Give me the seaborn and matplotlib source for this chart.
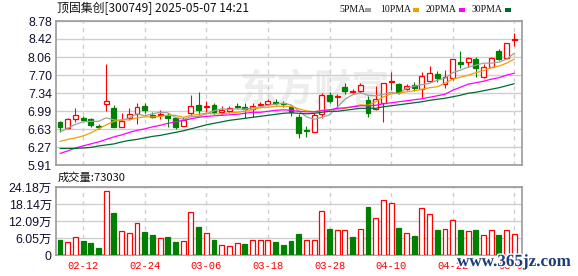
import matplotlib
matplotlib.use('Agg')
import matplotlib.pyplot as plt
import matplotlib.patheffects as pe
from matplotlib.patches import Rectangle
import seaborn as sns
import numpy as np
import pandas as pd

# ---------------- data ----------------
opens = [6.77, 6.64, 6.83, 6.85, 6.83, 6.69, 7.12, 7.04, 6.67, 6.85,
         6.93, 7.09, 6.90, 6.91, 6.90, 6.84, 6.69, 6.94, 7.11, 7.07,
         7.11, 6.96, 6.99, 7.09, 7.07, 7.02, 7.11, 7.13, 7.17, 7.14,
         7.06, 6.87, 6.61, 6.56, 6.93, 7.30, 7.27, 7.46, 7.37, 7.39,
         7.21, 7.02, 7.14, 7.56, 7.52, 7.42, 7.50, 7.42, 7.59, 7.72,
         7.52, 7.64, 7.96, 7.96, 8.02, 7.66, 7.87, 8.18, 8.04, 8.41]
closes = [6.66, 6.82, 6.90, 6.81, 6.70, 6.67, 7.19, 6.67, 6.79, 6.92,
          7.07, 7.01, 6.87, 6.93, 6.85, 6.66, 6.81, 7.09, 7.01, 7.09,
          6.96, 7.01, 7.05, 7.06, 7.03, 7.09, 7.13, 7.19, 7.15, 7.12,
          6.96, 6.54, 6.59, 6.91, 7.30, 7.19, 7.29, 7.39, 7.38, 7.50,
          6.95, 7.22, 7.54, 7.58, 7.37, 7.48, 7.44, 7.69, 7.74, 7.65,
          7.66, 8.02, 7.93, 8.04, 7.85, 7.86, 8.04, 8.03, 8.34, 8.43]
highs = [6.78, 6.84, 7.04, 6.89, 6.85, 6.73, 7.92, 7.11, 6.94, 7.04,
         7.14, 7.14, 6.97, 7.01, 6.95, 6.86, 6.87, 7.31, 7.37, 7.19,
         7.15, 7.09, 7.09, 7.14, 7.15, 7.14, 7.17, 7.23, 7.23, 7.19,
         7.10, 6.93, 6.69, 6.95, 7.35, 7.37, 7.32, 7.55, 7.42, 7.55,
         7.29, 7.48, 7.55, 7.76, 7.55, 7.52, 7.56, 7.77, 7.89, 7.78,
         7.80, 8.03, 8.18, 8.07, 8.06, 7.92, 8.06, 8.22, 8.35, 8.55]
lows = [6.57, 6.62, 6.76, 6.78, 6.67, 6.63, 6.99, 6.66, 6.66, 6.81,
        6.73, 6.94, 6.84, 6.83, 6.67, 6.63, 6.69, 6.89, 6.91, 6.97,
        6.93, 6.93, 6.94, 7.02, 6.85, 6.87, 7.06, 7.11, 7.11, 7.07,
        6.89, 6.44, 6.47, 6.56, 6.85, 7.14, 7.07, 7.33, 7.34, 7.34,
        6.86, 7.01, 6.77, 7.41, 7.33, 7.40, 7.38, 7.25, 7.56, 7.56,
        7.45, 7.60, 7.85, 7.87, 7.67, 7.64, 7.86, 8.00, 8.03, 8.28]
volumes = [5.33, 4.51, 6.28, 4.98, 4.27, 2.49, 22.6, 15.05, 8.53, 7.70,
           11.38, 8.30, 7.11, 5.93, 6.40, 4.74, 4.98, 15.17, 9.96, 7.82,
           5.45, 3.56, 3.20, 4.15, 3.91, 5.33, 5.33, 5.33, 4.62, 3.56,
           4.98, 7.47, 5.33, 5.33, 15.53, 9.25, 8.77, 8.77, 6.40, 9.13,
           17.07, 13.16, 19.44, 18.49, 9.60, 7.82, 6.76, 16.60, 14.58, 8.89,
           9.25, 12.33, 8.89, 8.53, 8.89, 6.99, 8.77, 6.99, 8.77, 7.30]
first_volume_up = False
ma5 = [6.57, 6.64, 6.72, 6.77, 6.78, 6.78, 6.85, 6.81, 6.80, 6.85,
       6.93, 6.89, 6.93, 6.96, 6.95, 6.86, 6.82, 6.87, 6.88, 6.93,
       6.99, 7.03, 7.02, 7.03, 7.02, 7.05, 7.07, 7.10, 7.12, 7.14,
       7.11, 6.99, 6.87, 6.82, 6.86, 6.91, 7.06, 7.22, 7.31, 7.35,
       7.30, 7.29, 7.32, 7.36, 7.33, 7.44, 7.48, 7.51, 7.54, 7.60,
       7.64, 7.75, 7.80, 7.86, 7.90, 7.94, 7.94, 7.96, 8.02, 8.14]
ma10 = [6.38, 6.42, 6.45, 6.49, 6.55, 6.63, 6.71, 6.78, 6.81, 6.81,
        6.85, 6.87, 6.87, 6.88, 6.90, 6.90, 6.86, 6.90, 6.92, 6.94,
        6.93, 6.93, 6.95, 6.96, 6.98, 7.02, 7.05, 7.06, 7.08, 7.08,
        7.08, 7.03, 6.99, 6.97, 7.00, 7.01, 7.02, 7.04, 7.07, 7.11,
        7.10, 7.17, 7.27, 7.33, 7.34, 7.37, 7.39, 7.42, 7.45, 7.47,
        7.54, 7.62, 7.66, 7.70, 7.75, 7.79, 7.85, 7.88, 7.94, 8.02]
ma20 = [6.14, 6.19, 6.25, 6.29, 6.33, 6.37, 6.42, 6.47, 6.51, 6.56,
        6.60, 6.63, 6.67, 6.70, 6.74, 6.77, 6.80, 6.83, 6.86, 6.88,
        6.89, 6.90, 6.91, 6.92, 6.94, 6.96, 6.96, 6.98, 7.00, 7.01,
        7.00, 6.98, 6.97, 6.97, 6.99, 7.01, 7.04, 7.05, 7.07, 7.09,
        7.09, 7.10, 7.13, 7.15, 7.17, 7.19, 7.21, 7.23, 7.26, 7.29,
        7.32, 7.40, 7.46, 7.52, 7.55, 7.58, 7.62, 7.65, 7.70, 7.74]
ma30 = [6.24, 6.24, 6.24, 6.25, 6.26, 6.29, 6.31, 6.33, 6.37, 6.40,
        6.42, 6.45, 6.48, 6.50, 6.53, 6.56, 6.59, 6.63, 6.67, 6.71,
        6.74, 6.77, 6.80, 6.82, 6.84, 6.86, 6.88, 6.90, 6.92, 6.94,
        6.95, 6.94, 6.93, 6.94, 6.96, 6.98, 6.98, 7.00, 7.02, 7.04,
        7.04, 7.04, 7.07, 7.09, 7.11, 7.13, 7.15, 7.17, 7.20, 7.22,
        7.24, 7.27, 7.30, 7.34, 7.36, 7.39, 7.42, 7.45, 7.49, 7.53]
date_positions = [3, 11, 19, 27, 35, 43, 51, 59]
date_labels = ["02-12", "02-24", "03-06", "03-18", "03-28", "04-10", "04-22", "05-07"]
price_labels = ["5.91", "6.27", "6.63", "6.99", "7.34", "7.70", "8.06", "8.42", "8.78"]
price_min, price_max = 5.91, 8.78
vol_labels = ["0", "6.05万", "12.09万", "18.14万", "24.18万"]
vol_max = 24.18
title_text = "顶固集创[300749] 2025-05-07 14:21"
volume_text = "成交量:73030"
ma_names = ["5PMA", "10PMA", "20PMA", "30PMA"]

# ---------------- style ----------------
RED = "#ff0000"
GREEN = "#008000"
MA_COLORS = ["#a0a0a0", "#f0a000", "#ff00ff", "#006a35"]
GRID = "#cfcfcf"
SPINE = "#999999"
LABEL = "#101030"

sns.set_theme(style="white")
plt.rcParams['font.family'] = ['Liberation Sans', 'Noto Sans CJK SC', 'DejaVu Sans']

W, H = 578, 276
fig = plt.figure(figsize=(W / 100, H / 100), dpi=100)
fig.patch.set_facecolor("white")
ax = fig.add_axes([56 / W, 1 - 165 / H, 466 / W, 144 / H])
axv = fig.add_axes([56 / W, 1 - 255 / H, 466 / W, 68 / H])

n = len(closes)
xs = np.arange(n)
o = np.array(opens); c = np.array(closes)
hi = np.array(highs); lo = np.array(lows)
up = c >= o
colors = np.where(up, RED, GREEN)

# ---------------- price panel ----------------
ax.vlines(xs, lo, hi, colors=colors, lw=0.8, zorder=3)
body_h = np.maximum(np.abs(c - o), 0.012)
body_b = np.minimum(o, c)
ax.bar(xs, body_h, bottom=body_b, width=0.64,
       facecolor=np.where(up, "white", GREEN), edgecolor=colors,
       lw=0.9, zorder=4)

ma_df = pd.DataFrame({"idx": np.tile(xs, 4),
                      "value": ma5 + ma10 + ma20 + ma30,
                      "ma": np.repeat(ma_names, n)})
sns.lineplot(data=ma_df, x="idx", y="value", hue="ma", palette=MA_COLORS,
             hue_order=ma_names, ax=ax, legend=False, lw=0.9, zorder=5,
             estimator=None, sort=False)

ax.set_xlim(-0.52, 60.0)
ax.set_ylim(price_min, price_max)
ax.set_yticks(np.linspace(price_min, price_max, len(price_labels)))
ax.set_yticklabels(price_labels)
ax.set_xticks(date_positions)
ax.set_xticklabels([])
ax.set_xlabel(""); ax.set_ylabel("")
ax.set_axisbelow(True)
ax.yaxis.grid(True, color=GRID, lw=1.0)
ax.xaxis.grid(True, color=GRID, lw=1.0, ls=(0, (3, 3)))
ax.tick_params(axis='both', length=0, pad=3, labelsize=8.9, labelcolor=LABEL)

ax.text(0.555, 0.52, "东方财富", transform=ax.transAxes, ha="center", va="center",
        fontsize=27, color="#ededed", fontweight="bold",
        family=["Noto Sans CJK SC"], zorder=0.2)

# ---------------- volume panel ----------------
v = np.array(volumes)
vol_up = np.concatenate([[first_volume_up], c[1:] >= c[:-1]])
vcol = np.where(vol_up, RED, GREEN)
axv.bar(xs, v, width=0.64, facecolor=np.where(vol_up, "white", GREEN),
        edgecolor=vcol, lw=0.9, zorder=3)
axv.set_xlim(-0.52, 60.0)
axv.set_ylim(0, vol_max)
axv.set_yticks(np.linspace(0, vol_max, len(vol_labels)))
axv.set_yticklabels(vol_labels)
axv.set_xticks(date_positions)
axv.set_xticklabels(date_labels, family=["Liberation Mono"], color=RED, fontsize=7.6)
axv.set_axisbelow(True)
axv.yaxis.grid(True, color=GRID, lw=1.0)
axv.xaxis.grid(True, color=GRID, lw=1.0, ls=(0, (3, 3)))
axv.tick_params(axis='y', length=0, pad=3, labelsize=8.9, labelcolor=LABEL)
axv.tick_params(axis='x', length=0, pad=4)

for a in (ax, axv):
    for s in a.spines.values():
        s.set_color(SPINE)
        s.set_linewidth(1.2)

# ---------------- texts ----------------
fig.text(57 / W, 1 - 8.5 / H, title_text, ha="left", va="center",
         fontsize=8.6, color="#111111", family=["Noto Sans CJK SC"])
fig.text(58 / W, 1 - 177 / H, volume_text, ha="left", va="center",
         fontsize=8.1, color="#111111", family=["Noto Sans CJK SC"])

legend_text_x = [339, 380, 426, 472]
legend_box_x = [365, 413, 459, 505]
for name, tx, bx, col in zip(ma_names, legend_text_x, legend_box_x, MA_COLORS):
    fig.text(tx / W, 1 - 9 / H, name, ha="left", va="center", fontsize=7.0,
             color="#111111", family=["Liberation Serif"])
    fig.patches.append(Rectangle((bx / W, 1 - 11.5 / H), 6 / W, 3.5 / H,
                                 transform=fig.transFigure, facecolor=col,
                                 edgecolor="none"))

fig.text(457 / W, 1 - 262 / H, "www.365jz.com", ha="left", va="center",
         fontsize=12.3, color="#1c3d7a", fontweight="bold",
         family=["Liberation Serif"],
         path_effects=[pe.withStroke(linewidth=2, foreground="white")])

fig.savefig("out.png", dpi=100, facecolor="white")
